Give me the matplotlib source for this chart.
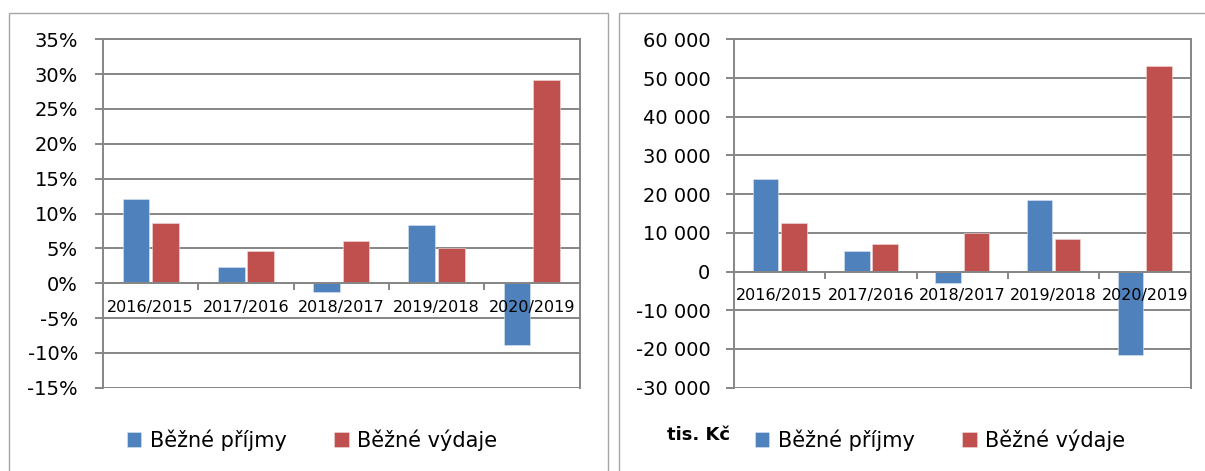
import matplotlib
matplotlib.use('Agg')
import matplotlib.pyplot as plt
from matplotlib.patches import Rectangle
from matplotlib.ticker import FuncFormatter, MultipleLocator, FixedLocator
import numpy as np

plt.rcParams['font.family'] = ['DejaVu Sans']
plt.rcParams['axes.unicode_minus'] = False

# data
categories = ['2016/2015', '2017/2016', '2018/2017', '2019/2018', '2020/2019']
pct_prijmy = [12.1, 2.35, -1.25, 8.3, -8.9]      # %
pct_vydaje = [8.6, 4.6, 6.1, 5.0, 29.1]          # %
kc_prijmy = [23900, 5250, -2850, 18500, -21600]  # tis. Kč
kc_vydaje = [12500, 7150, 9900, 8500, 53050]     # tis. Kč
series_names = ['Běžné příjmy', 'Běžné výdaje']

BLUE = '#4F81BD'
RED = '#C0504D'
GRID = '#868686'

W, H = 1205, 471
fig = plt.figure(figsize=(W / 100, H / 100), dpi=100)

# panel frames
fig.add_artist(Rectangle((8.5 / W, -0.05), (608 - 8.5) / W, (H - 12.5) / H + 0.05,
                         transform=fig.transFigure, fill=False, ec='#a6a6a6', lw=1.0))
fig.add_artist(Rectangle((619.5 / W, -0.05), 0.5, (H - 12.5) / H + 0.05,
                         transform=fig.transFigure, fill=False, ec='#a6a6a6', lw=1.0))


def fig_box(x0, x1, ytop, ybot):
    return [x0 / W, (H - ybot) / H, (x1 - x0) / W, (ybot - ytop) / H]


def draw(ax, a, b, ylim, step, fmt, ypad):
    x = np.arange(len(categories))
    w = 0.28
    h1 = ax.bar(x - 0.155, a, w, color=BLUE, edgecolor='#dce6f2', linewidth=0.4, zorder=3)
    h2 = ax.bar(x + 0.155, b, w, color=RED, edgecolor='#f2dcdb', linewidth=0.4, zorder=3)
    ax.set_xlim(-0.5, len(categories) - 0.5)
    ax.set_ylim(*ylim)
    ax.yaxis.set_major_locator(MultipleLocator(step))
    ax.yaxis.set_major_formatter(FuncFormatter(fmt))
    ax.grid(axis='y', color=GRID, lw=1.4)
    ax.yaxis.set_zorder(1)   # grid behind the bars
    ax.xaxis.set_zorder(5)   # category labels over the bars
    for s in ['left', 'right', 'top']:
        ax.spines[s].set_color(GRID)
        ax.spines[s].set_linewidth(1.4)
    ax.spines['bottom'].set_position(('data', 0))
    ax.spines['bottom'].set_color(GRID)
    ax.spines['bottom'].set_linewidth(1.4)
    ax.spines['bottom'].set_zorder(4)
    ax.set_xticks(x)
    ax.set_xticklabels(categories, fontsize=11.5)
    ax.xaxis.set_minor_locator(FixedLocator(x[:-1] + 0.5))
    ax.tick_params(axis='x', which='major', length=0, pad=12)
    ax.tick_params(axis='x', which='minor', length=5, width=1.4, color=GRID, direction='out')
    ax.tick_params(axis='y', length=6, width=1.4, color=GRID, labelsize=14, pad=ypad)
    return h1, h2


ax1 = fig.add_axes(fig_box(103, 579.5, 39.3, 387.7))
h1, h2 = draw(ax1, pct_prijmy, pct_vydaje, (-15, 35), 5,
              lambda v, p: f'{v:.0f}%', 12)
fig.legend([h1, h2], series_names, loc='center', bbox_to_anchor=(312 / W, (H - 440) / H),
           ncol=2, frameon=False, fontsize=15, handlelength=0.7, handleheight=0.7,
           handletextpad=0.4, columnspacing=2.3)

ax2 = fig.add_axes(fig_box(734, 1190.5, 39.3, 387.7))


def thousands(v, p):
    s = f'{abs(int(round(v))):,}'.replace(',', ' ')
    return ('-' if v < 0 else '') + s


h1, h2 = draw(ax2, kc_prijmy, kc_vydaje, (-30000, 60000), 10000, thousands, 11)
fig.legend([h1, h2], series_names, loc='center', bbox_to_anchor=(940 / W, (H - 440) / H),
           ncol=2, frameon=False, fontsize=15, handlelength=0.7, handleheight=0.7,
           handletextpad=0.4, columnspacing=2.3)
fig.text(698 / W, (H - 435) / H, 'tis. Kč', fontsize=13, fontweight='bold',
         ha='center', va='center')

fig.savefig('out.png', dpi=100)
